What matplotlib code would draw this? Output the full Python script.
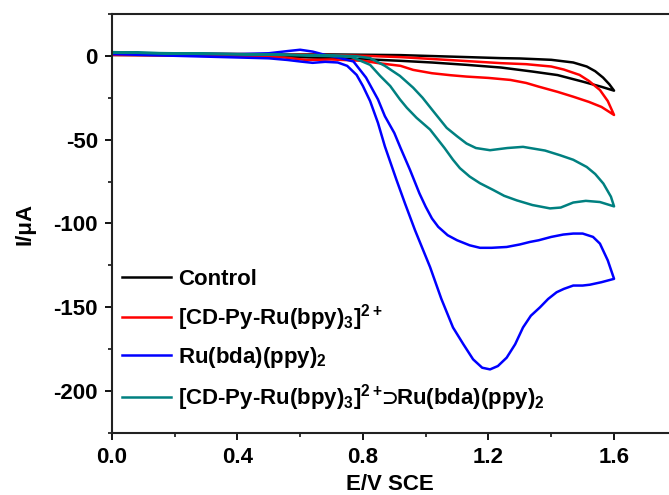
import matplotlib
matplotlib.use('Agg')
import matplotlib.pyplot as plt
from matplotlib.ticker import MultipleLocator

plt.rcParams['font.family'] = ['Liberation Sans', 'DejaVu Sans']
plt.rcParams['font.weight'] = 'bold'
plt.rcParams['mathtext.fontset'] = 'custom'
plt.rcParams['mathtext.rm'] = 'Liberation Sans:bold'
plt.rcParams['mathtext.it'] = 'Liberation Sans:bold'
plt.rcParams['mathtext.bf'] = 'Liberation Sans:bold'
plt.rcParams['mathtext.default'] = 'rm'
plt.rcParams['mathtext.fallback'] = 'stixsans'
plt.rcParams['axes.unicode_minus'] = False

# Control (forward scan then reverse scan)
control_E = [0.00, 0.20, 0.40, 0.60, 0.80, 0.92, 1.02, 1.13, 1.24, 1.34, 1.42, 1.50, 1.56, 1.60,
             1.585, 1.565, 1.54, 1.513, 1.47, 1.40, 1.30, 1.24, 1.10, 0.92, 0.70, 0.40, 0.00]
control_I = [0.5, 0.3, 0.0, -0.8, -2.0, -3.0, -4.0, -5.4, -7.0, -9.4, -11.5, -15.4, -18.5, -20.8,
             -17.0, -13.0, -9.2, -6.4, -4.0, -2.4, -1.6, -1.4, -0.6, 0.4, 0.8, 1.0, 1.2]

# [CD-Py-Ru(bpy)3]2+
ru_bpy_E = [0.00, 0.20, 0.40, 0.55, 0.62, 0.70, 0.80, 0.85, 0.92, 0.96, 1.02, 1.08, 1.13, 1.20,
            1.27, 1.32, 1.36, 1.42, 1.47, 1.52, 1.56, 1.60,
            1.58, 1.555, 1.52, 1.49, 1.44, 1.40, 1.32, 1.24, 1.10, 0.92, 0.80, 0.60, 0.40, 0.00]
ru_bpy_I = [0.5, 0.2, -0.3, -1.0, -2.5, -2.2, -3.0, -4.4, -6.0, -8.4, -10.4, -11.6, -12.4, -13.2,
            -14.4, -16.2, -18.4, -21.5, -24.4, -27.5, -30.5, -35.3,
            -27.0, -20.4, -15.0, -11.4, -8.2, -6.4, -5.0, -4.4, -2.8, -0.8, 0.0, 0.8, 1.0, 1.5]

# Ru(bda)(ppy)2
ru_bda_E = [0.00, 0.10, 0.20, 0.30, 0.40, 0.50, 0.56, 0.60, 0.64, 0.68, 0.72, 0.75, 0.78, 0.80,
            0.823, 0.848, 0.87, 0.907, 0.934, 0.966, 1.014, 1.05, 1.087, 1.12, 1.151, 1.18, 1.205,
            1.23, 1.258, 1.285, 1.31, 1.335, 1.364, 1.39, 1.417, 1.44, 1.47, 1.50, 1.523, 1.56, 1.60,
            1.58, 1.555, 1.533, 1.50, 1.47, 1.438, 1.40, 1.36, 1.332, 1.30, 1.258, 1.21, 1.173,
            1.14, 1.10, 1.07, 1.04, 1.02, 1.00, 0.98, 0.95, 0.92, 0.90, 0.87, 0.848, 0.81, 0.77, 0.72,
            0.68, 0.64, 0.60, 0.56, 0.50, 0.40, 0.20, 0.00]
ru_bda_I = [1.0, 0.5, 0.0, -0.5, -1.0, -1.5, -2.5, -3.4, -4.2, -3.6, -4.0, -6.0, -11.4, -18.0,
            -27.0, -40.0, -54.0, -74.0, -88.0, -104.0, -126.0, -145.0, -162.0, -172.0, -181.0, -186.0, -187.0,
            -185.0, -180.0, -172.0, -162.0, -155.0, -150.0, -145.0, -141.0, -139.0, -137.0, -137.0, -136.5, -135.0, -133.0,
            -122.0, -112.0, -108.0, -106.0, -106.0, -106.6, -108.0, -110.0, -111.0, -112.5, -114.0, -114.5, -114.5,
            -113.0, -110.0, -107.0, -102.0, -97.0, -90.0, -82.0, -68.0, -55.0, -46.0, -36.0, -26.0, -13.0, -3.4, -1.0,
            0.5, 2.5, 3.6, 2.8, 1.5, 1.0, 1.2, 1.6]

# [CD-Py-Ru(bpy)3]2+ ⊃ Ru(bda)(ppy)2
host_guest_E = [0.00, 0.20, 0.40, 0.60, 0.70, 0.76, 0.823, 0.855, 0.887, 0.918, 0.94, 0.971, 1.014,
                1.06, 1.087, 1.109, 1.14, 1.173, 1.215, 1.25, 1.29, 1.34, 1.396, 1.43, 1.47, 1.51,
                1.555, 1.60,
                1.59, 1.566, 1.54, 1.513, 1.47, 1.428, 1.38, 1.31, 1.26, 1.205, 1.16, 1.13, 1.10,
                1.067, 1.024, 0.99, 0.96, 0.918, 0.87, 0.823, 0.78, 0.70, 0.50, 0.20, 0.00]
host_guest_I = [2.0, 1.5, 1.0, 0.3, -0.2, -0.4, -5.4, -12.0, -18.0, -26.0, -31.0, -37.0, -44.0,
                -55.0, -62.0, -67.0, -72.0, -76.0, -80.0, -83.5, -86.2, -89.0, -91.0, -90.5, -87.5, -86.5,
                -87.2, -89.8,
                -84.0, -76.2, -70.5, -66.3, -62.0, -59.3, -56.5, -54.3, -55.0, -56.3, -55.0, -52.3, -48.0,
                -43.0, -33.0, -25.0, -19.0, -12.0, -6.0, -1.4, -0.3, 0.3, 0.8, 1.3, 2.2]

labels = ['Control',
          r'[CD-Py-Ru(bpy)$_3$]$^{2+}$',
          r'Ru(bda)(ppy)$_2$',
          r'[CD-Py-Ru(bpy)$_3$]$^{2+}$$\!\!\supset\!\!$Ru(bda)(ppy)$_2$']
colors = ['black', '#ff0000', '#0000ff', '#008080']

fig = plt.figure(figsize=(6.69, 4.95), dpi=100)
ax = fig.add_axes([0.167, 0.125, 0.833, 0.847])

series = [(control_E, control_I), (ru_bpy_E, ru_bpy_I), (ru_bda_E, ru_bda_I), (host_guest_E, host_guest_I)]
for (E, I), lab, col in zip(series, labels, colors):
    ax.plot(E, I, color=col, lw=1.8, label=lab)

ax.set_xlim(0, 1.775)
ax.set_ylim(-225, 25)
ax.xaxis.set_major_locator(MultipleLocator(0.4))
ax.xaxis.set_minor_locator(MultipleLocator(0.2))
ax.yaxis.set_major_locator(MultipleLocator(50))
ax.yaxis.set_minor_locator(MultipleLocator(25))
ax.xaxis.set_major_formatter(plt.FormatStrFormatter('%.1f'))
ax.tick_params(which='major', direction='out', length=5, width=1.3, labelsize=16, pad=5)
ax.tick_params(which='minor', direction='out', length=3, width=1.1)
ax.spines['right'].set_visible(False)
for s in ['left', 'bottom', 'top']:
    ax.spines[s].set_linewidth(1.5)
    ax.spines[s].set_color('#222222')

ax.set_xlabel('E/V SCE', fontsize=16, fontweight='bold', labelpad=4)
ax.set_ylabel('I/μA', fontsize=16, fontweight='bold', labelpad=13)

ax.legend(loc='upper left', bbox_to_anchor=(0.003, 0.413), frameon=False, fontsize=16,
          handlelength=2.2, handletextpad=0.3, labelspacing=0.55, borderaxespad=0)

fig.savefig('out.png', dpi=100)
